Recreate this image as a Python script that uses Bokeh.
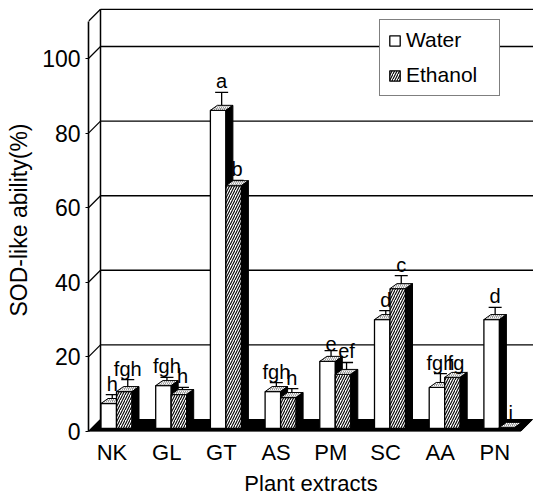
import numpy as np
from bokeh.plotting import figure
from bokeh.models import (ColumnDataSource, FixedTicker, Whisker, TeeHead, Legend,
                          LegendItem, Range1d)
from bokeh.core.properties import value
from bokeh.embed import file_html
from bokeh.resources import INLINE

# ---------------- data ----------------
categories = ["NK", "GL", "GT", "AS", "PM", "SC", "AA", "PN"]
water = [6.7, 11.5, 85.3, 9.9, 18.0, 29.2, 11.0, 29.2]
ethanol = [9.9, 9.1, 65.1, 8.3, 14.5, 37.5, 13.7, 0.3]
water_err = [2.4, 2.2, 4.8, 2.4, 2.9, 2.4, 3.7, 3.3]
ethanol_err = [3.2, 1.9, 1.4, 2.4, 3.2, 3.5, 0.8, 1.0]
water_letters = ["h", "fgh", "a", "fgh", "e", "d", "fgh", "d"]
ethanol_letters = ["fgh", "h", "b", "h", "ef", "c", "fg", "i"]
y_ticks = [0, 20, 40, 60, 80, 100]
y_axis_top = 110

# ---------------- geometry (style) ----------------
FONT = "Liberation Sans"
BL, BT, BB = 88, 8, 63
FW, FH = 445, 423
PXX = 54.7      # px per category
PXY = 3.73      # px per percent
x0 = -23.5 / PXX
x1 = x0 + FW / PXX
y1 = FH / PXY
ddx, ddy = 12 / PXX, 12 / PXY          # wall depth
bw = 15.5 / PXX                        # bar width
bdx, bdy = 7 / PXX, 5 / PXY            # bar depth
base = 3 / PXY
shift = 4.5 / PXX

p = figure(frame_width=FW, frame_height=FH, output_backend="svg", toolbar_location=None,
           x_range=Range1d(x0, x1), y_range=Range1d(0, y1),
           min_border_left=BL, min_border_right=0, min_border_top=BT,
           min_border_bottom=BB)
p.outline_line_color = None
p.xgrid.visible = False
p.ygrid.visible = False
p.background_fill_color = "white"

n = len(categories)
idx = np.arange(n)

# floor
xr = n - 1 + 0.47
p.patch([x0, xr, xr + ddx, x0 + ddx], [0, 0, ddy, ddy], fill_color="black",
        line_color="black")

# back wall: left edge, top edge, gridlines, diagonal ticks
top_back = y_axis_top + ddy
p.segment(x0=[x0 + ddx], y0=[ddy], x1=[x0 + ddx], y1=[top_back], line_color="black",
          line_width=1.5)
p.segment(x0=[x0 + ddx], y0=[top_back], x1=[x1], y1=[top_back], line_color="black",
          line_width=1.6)
gv = np.array(y_ticks[1:], dtype=float)
p.segment(x0=[x0 + ddx] * len(gv), y0=gv + ddy, x1=[x1] * len(gv), y1=gv + ddy,
          line_color="black", line_width=1.4)
dv = np.array(y_ticks + [y_axis_top], dtype=float)
p.segment(x0=[x0] * len(dv), y0=dv, x1=[x0 + ddx] * len(dv), y1=dv + ddy,
          line_color="black", line_width=1.3)


def faces(vals, left):
    vals = np.asarray(vals, dtype=float)
    top = base + vals
    right = left + bw
    front = ColumnDataSource(dict(left=left, right=right, bottom=[base] * n, top=top))
    tops = ColumnDataSource(dict(
        xs=[[l, r, r + bdx, l + bdx] for l, r in zip(left, right)],
        ys=[[t, t, t + bdy, t + bdy] for t in top]))
    sides = ColumnDataSource(dict(
        xs=[[r, r + bdx, r + bdx, r] for r in right],
        ys=[[base, base + bdy, t + bdy, t] for t in top]))
    return front, tops, sides


wl = idx + shift - bw
el = idx + shift
renderers = {}
for name, vals, left, hatch in [("Water", water, wl, None), ("Ethanol", ethanol, el, "/")]:
    front, tops, sides = faces(vals, left)
    kw = dict(hatch_pattern=hatch, hatch_color="black", hatch_scale=5,
              hatch_weight=1.1) if hatch else {}
    r = p.quad(left="left", right="right", bottom="bottom", top="top", source=front,
               fill_color="white", line_color="black", line_width=1.3, **kw)
    renderers[name] = r
    p.patches("xs", "ys", source=tops, fill_color="#9a9a9a", line_color="black",
              line_width=1, hatch_pattern="/", hatch_color="white", hatch_scale=4,
              hatch_weight=1)
    p.patches("xs", "ys", source=sides, fill_color="black", line_color="black",
              line_width=1)

# error bars + letters
for vals, errs, left, letters in [(water, water_err, wl, water_letters),
                                  (ethanol, ethanol_err, el, ethanol_letters)]:
    vals = np.asarray(vals, dtype=float)
    errs = np.asarray(errs, dtype=float)
    xc = left + bw / 2 + bdx / 2
    src = ColumnDataSource(dict(x=xc, lower=base + vals + bdy / 2,
                                upper=base + vals + errs, label=letters))
    p.add_layout(Whisker(source=src, base="x", upper="upper", lower="lower",
                         dimension="height", line_width=1.3, line_color="black",
                         upper_head=TeeHead(size=13, line_width=1.3, line_color="black"),
                         lower_head=None))
    p.text(x="x", y="upper", text="label", source=src, text_font=value(FONT),
           text_font_size="20px", text_align="center", text_baseline="bottom",
           text_color="black")

# axes
ya = p.yaxis[0]
ya.ticker = FixedTicker(ticks=y_ticks)
ya.bounds = (0, y_axis_top)
ya.axis_line_width = 1.6
ya.axis_line_color = "black"
ya.major_tick_in = 0
ya.major_tick_out = 3
ya.major_tick_line_color = "black"
ya.minor_tick_line_color = None
ya.major_label_text_font = FONT
ya.major_label_text_font_size = "23px"
ya.major_label_text_color = "black"
ya.major_label_standoff = 5
ya.axis_label = "SOD-like ability(%)"
ya.axis_label_text_font = FONT
ya.axis_label_text_font_size = "23px"
ya.axis_label_text_font_style = "normal"
ya.axis_label_text_color = "black"
ya.axis_label_standoff = 7

xa = p.xaxis[0]
xa.ticker = FixedTicker(ticks=list(range(n)))
xa.major_label_overrides = {i: c for i, c in enumerate(categories)}
xa.axis_line_color = None
xa.major_tick_line_color = None
xa.minor_tick_line_color = None
xa.major_label_text_font = FONT
xa.major_label_text_font_size = "22px"
xa.major_label_text_color = "black"
xa.major_label_standoff = 2
xa.axis_label = "Plant extracts"
xa.axis_label_text_font = FONT
xa.axis_label_text_font_size = "22px"
xa.axis_label_text_font_style = "normal"
xa.axis_label_text_color = "black"
xa.axis_label_standoff = 3

legend = Legend(items=[LegendItem(label="Water", renderers=[renderers["Water"]]),
                       LegendItem(label="Ethanol", renderers=[renderers["Ethanol"]])],
                location=(291, 335), label_text_font=FONT, label_text_font_size="21px",
                label_text_color="black",
                glyph_width=13, glyph_height=13, label_standoff=5, padding=8,
                spacing=11, border_line_color="black", border_line_width=1.8,
                background_fill_alpha=1.0, label_width=85, margin=0)
p.add_layout(legend)

open("out.html", "w").write(file_html(p, INLINE))
